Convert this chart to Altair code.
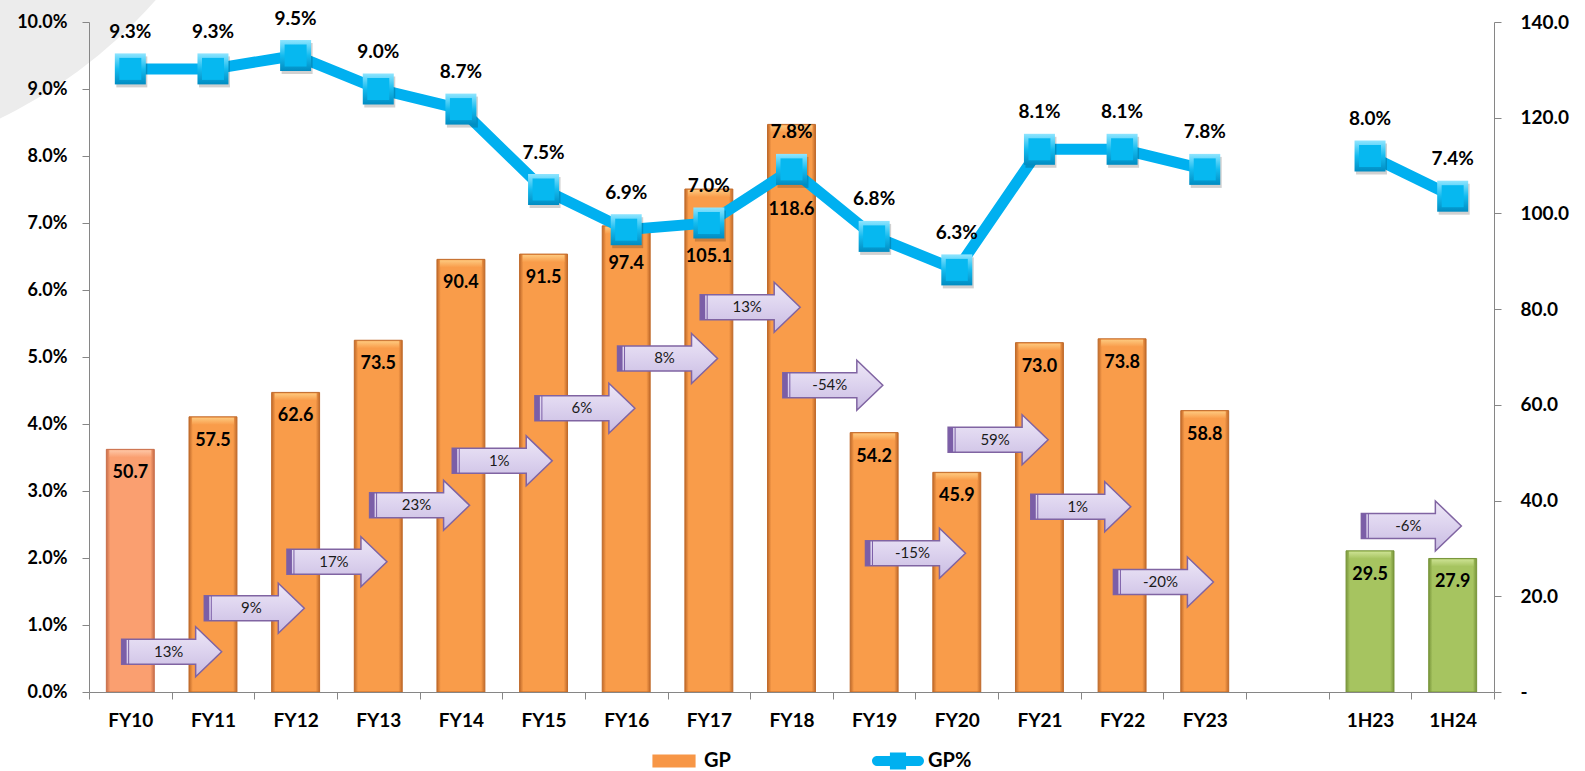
import altair as alt
import pandas as pd

# Category axis: fourteen fiscal years, an empty slot, then two half years
periods = ["FY10", "FY11", "FY12", "FY13", "FY14", "FY15", "FY16", "FY17",
           "FY18", "FY19", "FY20", "FY21", "FY22", "FY23", " ", "1H23", "1H24"]

# Gross profit (right axis)
gp_values = [50.7, 57.5, 62.6, 73.5, 90.4, 91.5, 97.4, 105.1, 118.6,
             54.2, 45.9, 73.0, 73.8, 58.8, None, 29.5, 27.9]

# Gross profit margin, in percent (left axis)
gp_margin = [9.3, 9.3, 9.5, 9.0, 8.7, 7.5, 6.9, 7.0, 7.8,
             6.8, 6.3, 8.1, 8.1, 7.8, None, 8.0, 7.4]

# Growth call-outs: the period each arrow starts from, its text, and its height on the GP axis
growth_from = ["FY10", "FY11", "FY12", "FY13", "FY14", "FY15", "FY16",
               "FY17", "FY18", "FY19", "FY20", "FY21", "FY22", "1H23"]
growth_text = ["13%", "9%", "17%", "23%", "1%", "6%", "8%",
               "13%", "-54%", "-15%", "59%", "1%", "-20%", "-6%"]
growth_level = [8.4, 17.5, 27.2, 39.0, 48.3, 59.3, 69.7,
                80.4, 64.1, 29.0, 52.7, 38.7, 23.0, 34.7]

legend_items = ["GP", "GP%"]

# ---- styling -------------------------------------------------------------
FONT = "Lato, sans-serif"
GREY = "#868686"
W, H = 1405, 670
LABEL_DROP = 24                      # px below the bar top for value labels
LABEL_DROP_SPECIAL = {"FY16": 38, "FY17": 68, "FY18": 86}   # kept clear of the line

BAR_STYLE = {                        # edge, face, bevel cap
    "first": ("#c86e4a", "#fa9f70", "#ffd6bb"),
    "year": ("#c06a2a", "#f99c4a", "#ffdb94"),
    "half": ("#78953a", "#a6c460", "#dbeda6"),
}

ARROW = "M -1 -0.25 L 0.48 -0.25 L 0.48 -0.5 L 1 0 L 0.48 0.5 L 0.48 0.25 L -1 0.25 Z"
ARROW_STRIPE = ("M -1 -0.25 L -0.9 -0.25 L -0.9 0.25 L -1 0.25 Z "
                "M -0.87 -0.25 L -0.85 -0.25 L -0.85 0.25 L -0.87 0.25 Z")
GP_ICON = "M -0.83 -0.25 L 0.83 -0.25 L 0.83 0.25 L -0.83 0.25 Z"
PCT_ICON = ("M -0.31 -0.33 L 0.31 -0.33 L 0.31 0.33 L -0.31 0.33 Z "
            "M -0.81 -0.19 L 0.81 -0.19 A 0.19 0.19 0 0 1 0.81 0.19 "
            "L -0.81 0.19 A 0.19 0.19 0 0 1 -0.81 -0.19 Z")


def hgrad(edge, face):
    return alt.Gradient(gradient="linear", x1=0, x2=1, y1=0, y2=0, stops=[
        alt.GradientStop(offset=0, color=edge),
        alt.GradientStop(offset=0.08, color=face),
        alt.GradientStop(offset=0.92, color=face),
        alt.GradientStop(offset=1, color=edge)])


def vgrad(top, bottom, mid=None):
    stops = [alt.GradientStop(offset=0, color=top)]
    if mid:
        stops.append(alt.GradientStop(offset=0.5, color=mid))
    stops.append(alt.GradientStop(offset=1, color=bottom))
    return alt.Gradient(gradient="linear", x1=0, x2=0, y1=0, y2=1, stops=stops)


# ---- data tables ---------------------------------------------------------
rows = []
for p, g, m in zip(periods, gp_values, gp_margin):
    if g is None:
        continue
    half = p.startswith("1H")
    rows.append({
        "period": p, "gp": g, "margin": m,
        "kind": "half" if half else ("first" if p == periods[0] else "year"),
        "seg": "H" if half else "FY",
        "drop": LABEL_DROP_SPECIAL.get(p, LABEL_DROP),
    })
df = pd.DataFrame(rows)
arrows = pd.DataFrame({"period": growth_from, "text": growth_text, "level": growth_level})
legend_df = pd.DataFrame({"series": legend_items})

# ---- scales and axes -----------------------------------------------------
X_SCALE = alt.Scale(domain=periods, paddingInner=0, paddingOuter=0)
X_AXIS = alt.Axis(title=None, tickBand="extent", labelAngle=0, labelFont=FONT,
                  labelFontSize=19, labelFontWeight="bold", labelColor="#000",
                  labelPadding=12, domainColor=GREY, tickColor=GREY, tickSize=7,
                  grid=False, zindex=1)
GP_SCALE = alt.Scale(domain=[0, 140], nice=False, zero=True)
GP_AXIS = alt.Axis(orient="right", title=None, values=[0, 20, 40, 60, 80, 100, 120, 140],
                   labelExpr="datum.value == 0 ? '-' : format(datum.value, '.1f')",
                   labelFont=FONT, labelFontSize=19, labelFontWeight="bold",
                   labelColor="#000", labelPadding=19, domainColor=GREY,
                   tickColor=GREY, tickSize=7, grid=False, zindex=1)
PCT_SCALE = alt.Scale(domain=[0, 10], nice=False, zero=True)
PCT_AXIS = alt.Axis(orient="left", title=None, values=list(range(11)),
                    labelExpr="format(datum.value, '.1f') + '%'",
                    labelFont=FONT, labelFontSize=18, labelFontWeight="bold",
                    labelColor="#000", labelPadding=15, domainColor=GREY,
                    tickColor=GREY, tickSize=7, grid=False, zindex=1)


def x_enc(**kw):
    return alt.X("period:N", scale=X_SCALE, axis=X_AXIS, **kw)


def gp_y():
    return alt.Y("gp:Q", scale=GP_SCALE, axis=GP_AXIS)


def pct_y():
    return alt.Y("margin:Q", scale=PCT_SCALE, axis=PCT_AXIS)


# ---- slide backdrop: grey disc in the top-left corner --------------------
backdrop = alt.Chart(pd.DataFrame({"k": [0]})).mark_point(
    shape="circle", size=1_000_000, filled=True, color="#ececec", opacity=1
).encode(x=alt.value(-308), y=alt.value(-353))

# ---- GP bars ---------------------------------------------------------------
bar_layers, cap_layers = [], []
for kind, (edge, face, cap) in BAR_STYLE.items():
    sub = alt.Chart(df).transform_filter(alt.datum.kind == kind)
    bar_layers.append(sub.mark_bar(width=alt.RelativeBandSize(0.58), color=hgrad(edge, face),
                                   stroke=edge, strokeWidth=1)
                      .encode(x=x_enc(), y=gp_y()))
    cap_layers.append(sub.mark_tick(orient="horizontal", size=42, thickness=7, yOffset=4.5,
                                    color=vgrad(cap, face))
                      .encode(x=x_enc(), y=gp_y()))

# value labels sit inside the bar top; a few are dropped further to clear the line
label_layers = []
for drop in sorted(df["drop"].unique()):
    label_layers.append(
        alt.Chart(df).transform_filter(alt.datum.drop == int(drop)).mark_text(
            font=FONT, fontSize=18, fontWeight="bold", color="#000",
            baseline="middle", dy=int(drop)
        ).encode(x=x_enc(), y=gp_y(), text=alt.Text("gp:Q", format=".1f"))
    )

# ---- growth arrows -----------------------------------------------------------
ax = alt.X("period:N", scale=X_SCALE, axis=X_AXIS, bandPosition=1)
ay = alt.Y("level:Q", scale=GP_SCALE, axis=GP_AXIS)
arrow_body = alt.Chart(arrows).mark_point(
    shape=ARROW, size=10000, filled=True, opacity=1,
    color=vgrad("#eee8f7", "#c9bce2", "#dcd2ee"), stroke="#8064a2", strokeWidth=1.5
).encode(x=ax, y=ay)
arrow_stripe = alt.Chart(arrows).mark_point(
    shape=ARROW_STRIPE, size=10000, filled=True, opacity=1, color="#7b5ea7", strokeWidth=0
).encode(x=ax, y=ay)
arrow_text = alt.Chart(arrows).mark_text(
    font=FONT, fontSize=15, color="#1a1a1a", baseline="middle", dx=-3
).encode(x=ax, y=ay, text="text:N")

# ---- GP% line -------------------------------------------------------------
line = alt.Chart(df).mark_line(color="#00b0f0", strokeWidth=11).encode(
    x=x_enc(), y=pct_y(), detail="seg:N")
marker_shadow = alt.Chart(df).mark_point(
    shape="square", size=961, filled=True, opacity=0.18, color="#000", xOffset=1.5, yOffset=3
).encode(x=x_enc(), y=pct_y())
marker_outer = alt.Chart(df).mark_point(
    shape="square", size=961, filled=True, opacity=1,
    color=vgrad("#8fe5ff", "#008cc2", "#14bbef")
).encode(x=x_enc(), y=pct_y())
marker_inner = alt.Chart(df).mark_point(
    shape="square", size=484, filled=True, opacity=1, color="#06b8f0"
).encode(x=x_enc(), y=pct_y())
pct_labels = alt.Chart(df).transform_calculate(
    label="format(datum.margin, '.1f') + '%'"
).mark_text(font=FONT, fontSize=19, fontWeight="bold", color="#000",
            baseline="middle", dy=-37).encode(x=x_enc(), y=pct_y(), text="label:N")

# ---- legend ----------------------------------------------------------------
LEGEND = alt.Legend(orient="none", legendX=559, legendY=713, direction="horizontal",
                    title=None, symbolSize=2704, symbolOpacity=1, symbolStrokeWidth=0,
                    labelFont=FONT, labelFontSize=20, labelFontWeight="bold",
                    labelColor="#000", labelOffset=4, columnPadding=140, padding=0)
legend_layer = alt.Chart(legend_df).mark_point(filled=True, opacity=0).encode(
    color=alt.Color("series:N", scale=alt.Scale(domain=legend_items,
                                                range=["#f79646", "#00b0f0"]), legend=LEGEND),
    shape=alt.Shape("series:N", scale=alt.Scale(domain=legend_items,
                                                range=[GP_ICON, PCT_ICON]), legend=LEGEND),
)

gp_group = alt.layer(backdrop, *bar_layers, *cap_layers, *label_layers,
                     arrow_body, arrow_stripe, arrow_text)
pct_group = alt.layer(line, marker_shadow, marker_outer, marker_inner, pct_labels, legend_layer)

chart = alt.layer(gp_group, pct_group).resolve_scale(
    y="independent"
).properties(
    width=W, height=H,
    padding={"left": 89, "top": 22, "right": 91, "bottom": 79},
    autosize=alt.AutoSizeParams(type="none"),
    background="white",
).configure_view(stroke=None)

chart.save("out.html", embed_options={"renderer": "svg", "actions": False})
